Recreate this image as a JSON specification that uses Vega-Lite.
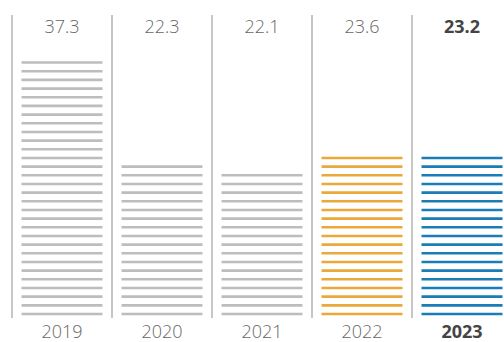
{
  "$schema": "https://vega.github.io/schema/vega-lite/v6.json",
  "width": 504,
  "height": 303,
  "autosize": {"type": "none"},
  "padding": {"top": 15, "left": 0, "right": 0, "bottom": 24},
  "background": "white",
  "data": {
    "values": [
      {"year": "2019", "label": "37.3", "stripes": 30},
      {"year": "2020", "label": "22.3", "stripes": 18},
      {"year": "2021", "label": "22.1", "stripes": 17},
      {"year": "2022", "label": "23.6", "stripes": 19},
      {"year": "2023", "label": "23.2", "stripes": 19}
    ]
  },
  "config": {
    "view": {"stroke": null},
    "axis": {
      "domain": false,
      "ticks": false,
      "tickSize": 0,
      "grid": false,
      "labelFont": "Open Sans",
      "labelFontSize": 18,
      "labelAngle": 0,
      "title": null
    }
  },
  "resolve": {"scale": {"x": "independent"}, "axis": {"x": "independent"}},
  "layer": [
    {
      "mark": {"type": "rule", "color": "#b3b3b3", "strokeWidth": 1.5},
      "encoding": {
        "x": {
          "field": "year",
          "type": "ordinal",
          "bandPosition": 0,
          "scale": {"type": "band", "range": [12, 512], "paddingInner": 0, "paddingOuter": 0},
          "axis": {
            "orient": "bottom",
            "labelPadding": 19,
            "labelBaseline": "alphabetic",
            "labelFontWeight": {"condition": {"test": "datum.value == '2023'", "value": "bold"}, "value": 300},
            "labelColor": {"condition": {"test": "datum.value == '2023'", "value": "#444444"}, "value": "#666666"}
          }
        }
      }
    },
    {
      "mark": {"type": "rule", "strokeWidth": 81, "strokeDash": [2.6, 6.07]},
      "encoding": {
        "x": {
          "field": "label",
          "type": "ordinal",
          "sort": null,
          "scale": {"type": "band", "range": [12, 512], "paddingInner": 0, "paddingOuter": 0},
          "axis": {
            "orient": "top",
            "labelPadding": -17,
            "labelBaseline": "alphabetic",
            "labelFontWeight": {"condition": {"test": "datum.value == '23.2'", "value": "bold"}, "value": 300},
            "labelColor": {"condition": {"test": "datum.value == '23.2'", "value": "#444444"}, "value": "#666666"}
          }
        },
        "y": {"field": "stripes", "type": "quantitative", "scale": {"domain": [0, 34], "range": [306.37, 11.59]}, "axis": null},
        "y2": {"datum": 0},
        "color": {
          "field": "year",
          "type": "nominal",
          "scale": {"domain": ["2019", "2020", "2021", "2022", "2023"], "range": ["#bdbdbd", "#bdbdbd", "#bdbdbd", "#eaa93a", "#1a7db6"]},
          "legend": null
        }
      }
    }
  ]
}
